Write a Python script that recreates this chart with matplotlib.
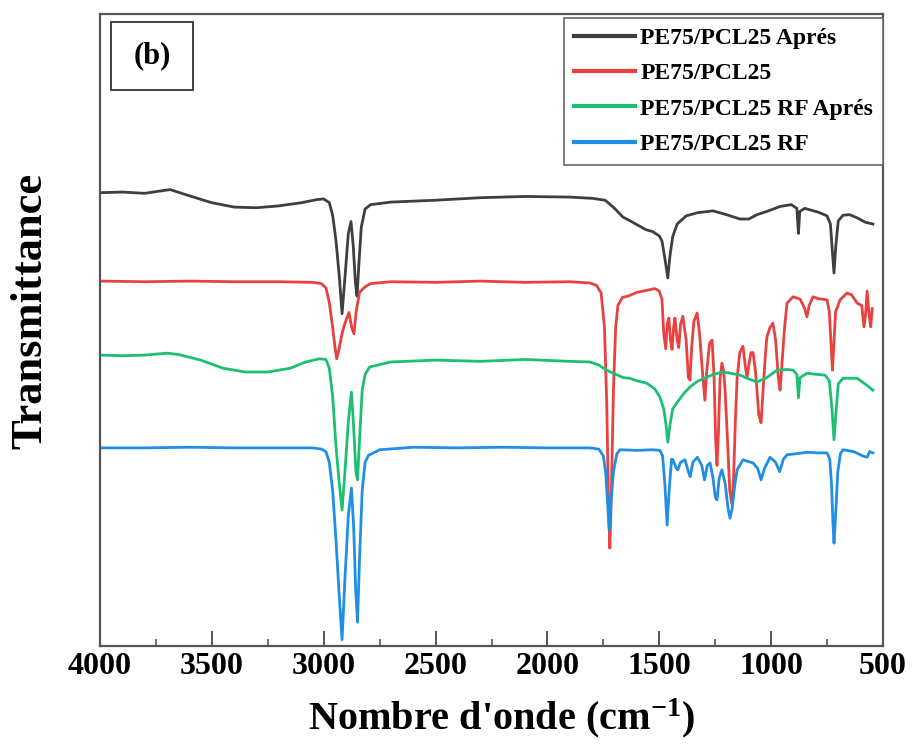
import matplotlib
matplotlib.use("Agg")
import matplotlib.pyplot as plt
from matplotlib.patches import Rectangle
from matplotlib.ticker import MultipleLocator

plt.rcParams['font.family'] = ['Liberation Serif', 'DejaVu Serif']
plt.rcParams['font.weight'] = 'bold'
plt.rcParams['mathtext.fontset'] = 'custom'
plt.rcParams['mathtext.rm'] = 'Liberation Serif:bold'
plt.rcParams['mathtext.bf'] = 'Liberation Serif:bold'
plt.rcParams['mathtext.default'] = 'bf'

# FTIR spectra, (wavenumber cm-1, transmittance in stacked arbitrary units)
apres_wn = [4000, 3900, 3800, 3687, 3600, 3500, 3400, 3300, 3200, 3100, 3030, 3000, 2975,
            2960, 2945, 2930, 2918, 2905, 2890, 2878, 2868, 2858, 2851, 2843, 2832, 2815,
            2790, 2700, 2500, 2300, 2100, 1900, 1800, 1742, 1700, 1662, 1630, 1600, 1560,
            1530, 1500, 1488, 1475, 1462, 1452, 1440, 1420, 1380, 1330, 1260, 1200, 1139,
            1100, 1063, 1020, 960, 910, 885, 878, 872, 850, 790, 750, 735, 726, 719, 711,
            700, 679, 650, 616, 580, 545]
apres_t = [71.5, 71.6, 71.4, 72.0, 71.0, 69.9, 69.2, 69.1, 69.4, 69.9, 70.4, 70.5, 69.9,
           67.9, 63.8, 58.0, 52.2, 58.0, 65.0, 66.9, 63.0, 57.0, 55.0, 60.0, 66.0, 68.9,
           69.6, 70.0, 70.3, 70.7, 70.9, 70.8, 70.6, 70.3, 69.0, 67.6, 67.0, 66.4, 65.6,
           65.3, 64.6, 63.8, 61.0, 57.9, 61.5, 64.5, 66.5, 67.8, 68.3, 68.6, 68.0, 67.3,
           67.3, 68.0, 68.5, 69.3, 69.6, 69.0, 65.0, 68.5, 69.0, 68.4, 67.8, 66.5, 62.0,
           58.7, 63.0, 67.0, 67.9, 68.0, 67.5, 66.8, 66.5]

pcl_wn = [4000, 3800, 3600, 3400, 3200, 3050, 3010, 2990, 2975, 2960, 2950, 2942, 2932,
          2915, 2900, 2887, 2875, 2865, 2855, 2840, 2815, 2790, 2700, 2500, 2300, 2100,
          1900, 1810, 1780, 1760, 1745, 1735, 1727, 1721, 1714, 1705, 1695, 1685, 1665,
          1640, 1600, 1560, 1520, 1500, 1488, 1480, 1471, 1465, 1457, 1450, 1443, 1436,
          1430, 1420, 1413, 1405, 1395, 1380, 1370, 1363, 1355, 1345, 1331, 1320, 1305,
          1296, 1288, 1275, 1264, 1255, 1248, 1242, 1236, 1228, 1220, 1212, 1206, 1195,
          1185, 1175, 1168, 1160, 1152, 1140, 1126, 1116, 1108, 1100, 1090, 1081, 1070,
          1055, 1045, 1036, 1025, 1019, 1005, 992, 980, 968, 960, 952, 940, 929, 902, 870,
          850, 840, 830, 813, 790, 750, 740, 732, 726, 720, 712, 692, 661, 640, 616, 595,
          585, 578, 571, 562, 555, 548]
pcl_t = [57.4, 57.3, 57.4, 57.3, 57.3, 57.2, 57.0, 56.3, 54.0, 50.0, 47.0, 45.0, 46.5,
         49.5, 51.2, 52.4, 50.0, 49.0, 52.5, 55.6, 56.5, 57.0, 57.3, 57.2, 57.4, 57.2,
         57.3, 57.1, 56.7, 55.5, 50.0, 38.0, 22.0, 14.8, 24.0, 40.0, 50.0, 53.5, 54.8,
         55.0, 55.6, 55.9, 56.2, 55.8, 54.5, 49.0, 46.6, 50.5, 51.5, 48.0, 46.5, 50.0,
         51.5, 48.0, 46.8, 50.5, 51.8, 48.0, 42.0, 41.6, 47.0, 51.0, 52.3, 49.0, 42.0,
         38.4, 43.0, 47.5, 48.0, 42.0, 32.0, 28.0, 33.0, 42.0, 44.3, 43.0, 40.0, 32.0,
         24.0, 21.8, 26.0, 35.0, 42.0, 46.0, 47.0, 44.0, 42.0, 44.0, 46.0, 46.0, 43.0,
         36.0, 34.8, 40.0, 46.0, 48.5, 50.0, 50.7, 48.0, 42.0, 40.0, 44.0, 50.0, 53.9,
         54.9, 54.5, 53.0, 51.7, 53.5, 54.9, 54.6, 54.4, 52.5, 47.0, 43.2, 47.0, 52.5,
         54.4, 55.5, 55.2, 53.9, 53.5, 50.1, 52.0, 55.8, 52.0, 50.1, 53.0]

rf_apres_wn = [4000, 3900, 3800, 3700, 3650, 3550, 3450, 3350, 3250, 3150, 3080, 3020, 2990,
               2975, 2960, 2945, 2930, 2918, 2905, 2890, 2876, 2866, 2856, 2849, 2840, 2828,
               2815, 2795, 2700, 2500, 2300, 2100, 1900, 1810, 1770, 1740, 1707, 1660, 1631,
               1600, 1555, 1520, 1497, 1480, 1470, 1462, 1452, 1440, 1421, 1390, 1363, 1330,
               1287, 1250, 1215, 1180, 1139, 1100, 1063, 1020, 974, 930, 902, 885, 878, 871,
               840, 790, 759, 740, 728, 719, 711, 700, 679, 616, 580, 545]
rf_apres_t = [45.6, 45.5, 45.6, 45.9, 45.7, 44.8, 43.5, 42.9, 42.9, 43.5, 44.5, 45.0, 44.9,
              43.5, 39.0, 31.0, 25.0, 20.9, 27.0, 35.0, 39.7, 34.0, 27.0, 25.7, 32.0, 40.0,
              42.5, 43.7, 44.5, 44.8, 44.6, 44.9, 44.6, 44.5, 44.0, 43.3, 42.7, 42.0, 41.9,
              41.5, 41.1, 40.2, 38.9, 37.0, 34.5, 31.7, 34.5, 37.0, 38.0, 39.5, 40.5, 41.4,
              42.1, 42.6, 42.9, 42.7, 42.4, 41.8, 41.3, 42.0, 43.2, 43.3, 43.2, 42.5, 38.8,
              42.0, 42.7, 42.5, 42.4, 41.5, 37.0, 32.1, 36.0, 41.0, 41.9, 41.9, 41.0, 40.0]

rf_wn = [4000, 3800, 3600, 3400, 3200, 3050, 3010, 2990, 2975, 2960, 2945, 2932, 2918, 2905,
         2890, 2876, 2866, 2857, 2849, 2840, 2828, 2815, 2800, 2750, 2600, 2400, 2200, 2000,
         1810, 1770, 1750, 1740, 1732, 1724, 1716, 1705, 1690, 1676, 1600, 1530, 1497, 1485,
         1475, 1465, 1455, 1445, 1439, 1425, 1417, 1405, 1385, 1370, 1362, 1350, 1330, 1310,
         1298, 1285, 1273, 1260, 1250, 1242, 1232, 1220, 1205, 1192, 1184, 1175, 1162, 1152,
         1126, 1100, 1081, 1060, 1045, 1030, 1005, 980, 962, 945, 929, 880, 840, 790, 750,
         738, 730, 724, 719, 712, 702, 690, 679, 630, 590, 571, 560, 545]
rf_t = [30.8, 30.8, 30.9, 30.8, 30.8, 30.8, 30.6, 30.2, 28.5, 24.0, 16.0, 8.0, 0.2, 10.0,
        20.0, 24.4, 18.0, 8.0, 3.0, 13.0, 24.0, 28.5, 29.6, 30.5, 30.9, 30.8, 30.9, 30.8,
        30.8, 30.6, 29.5, 27.0, 22.5, 17.7, 22.0, 27.0, 29.8, 30.5, 30.4, 30.5, 30.4, 29.5,
        25.0, 18.5, 24.5, 29.0, 28.9, 27.6, 27.3, 28.5, 28.9, 27.0, 26.2, 28.5, 29.3, 28.0,
        25.7, 28.0, 28.4, 26.0, 23.0, 22.5, 26.0, 27.3, 25.0, 21.0, 19.6, 21.0, 25.0, 27.3,
        28.9, 28.6, 28.4, 27.5, 25.7, 27.5, 29.3, 28.5, 27.0, 29.0, 29.7, 29.9, 30.1, 30.0,
        30.0, 29.0, 25.0, 19.0, 15.6, 20.0, 27.0, 29.9, 30.5, 30.2, 29.5, 29.3, 30.2, 30.0]

series_labels = ['PE75/PCL25 Aprés', 'PE75/PCL25', 'PE75/PCL25 RF Aprés', 'PE75/PCL25 RF']
series_colors = ['#3f3f3f', '#e8413f', '#1dbf73', '#1f8fe6']
xtick_values = [4000, 3500, 3000, 2500, 2000, 1500, 1000, 500]

fig = plt.figure(figsize=(9.17, 7.51), dpi=100)
ax = fig.add_axes([100 / 917, 1 - 646 / 751, 783 / 917, 632 / 751])

spectra = [(apres_wn, apres_t), (pcl_wn, pcl_t), (rf_apres_wn, rf_apres_t), (rf_wn, rf_t)]
for (wn, t), lab, col in zip(spectra, series_labels, series_colors):
    ax.plot(wn, t, color=col, lw=2.0, label=lab, solid_joinstyle='round')

ax.set_xlim(4000, 500)
ax.set_ylim(-0.8, 100)
ax.set_xticks(xtick_values)
ax.xaxis.set_minor_locator(MultipleLocator(250))
ax.set_yticks([])
ax.tick_params(axis='x', which='major', direction='in', length=11, width=1.4,
               color='#555555', labelsize=23, pad=4)
ax.tick_params(axis='x', which='minor', direction='in', length=5, width=1.2, color='#555555')
for lbl in ax.get_xticklabels():
    lbl.set_fontweight('bold')
for sp in ax.spines.values():
    sp.set_color('#555555')
    sp.set_linewidth(1.6)

ax.set_xlabel("Nombre d'onde (cm$^{-1}$)", fontsize=29, fontweight='bold')
ax.xaxis.set_label_coords(0.513, -0.08)
ax.set_ylabel('Transmittance', fontsize=32, fontweight='bold')
ax.yaxis.set_label_coords(-0.064, 0.53)

leg = ax.legend(loc='upper right', bbox_to_anchor=(1.0, 0.994),
                prop={'weight': 'bold', 'size': 17}, frameon=True, fancybox=False,
                framealpha=1, edgecolor='#666666', borderpad=0.42, labelspacing=0.58,
                handlelength=2.6, handletextpad=0.2, borderaxespad=0.0)
leg.get_frame().set_linewidth(1.2)
for h in leg.get_lines():
    h.set_linewidth(3.0)

# panel tag
ax.add_patch(Rectangle((0.014, 0.880), 0.105, 0.107, transform=ax.transAxes,
                       fill=False, edgecolor='#222222', lw=1.2))
ax.text(0.0665, 0.934, '(b)', transform=ax.transAxes, ha='center', va='center',
        fontsize=22, fontweight='bold')

fig.savefig('out.png', dpi=100)
